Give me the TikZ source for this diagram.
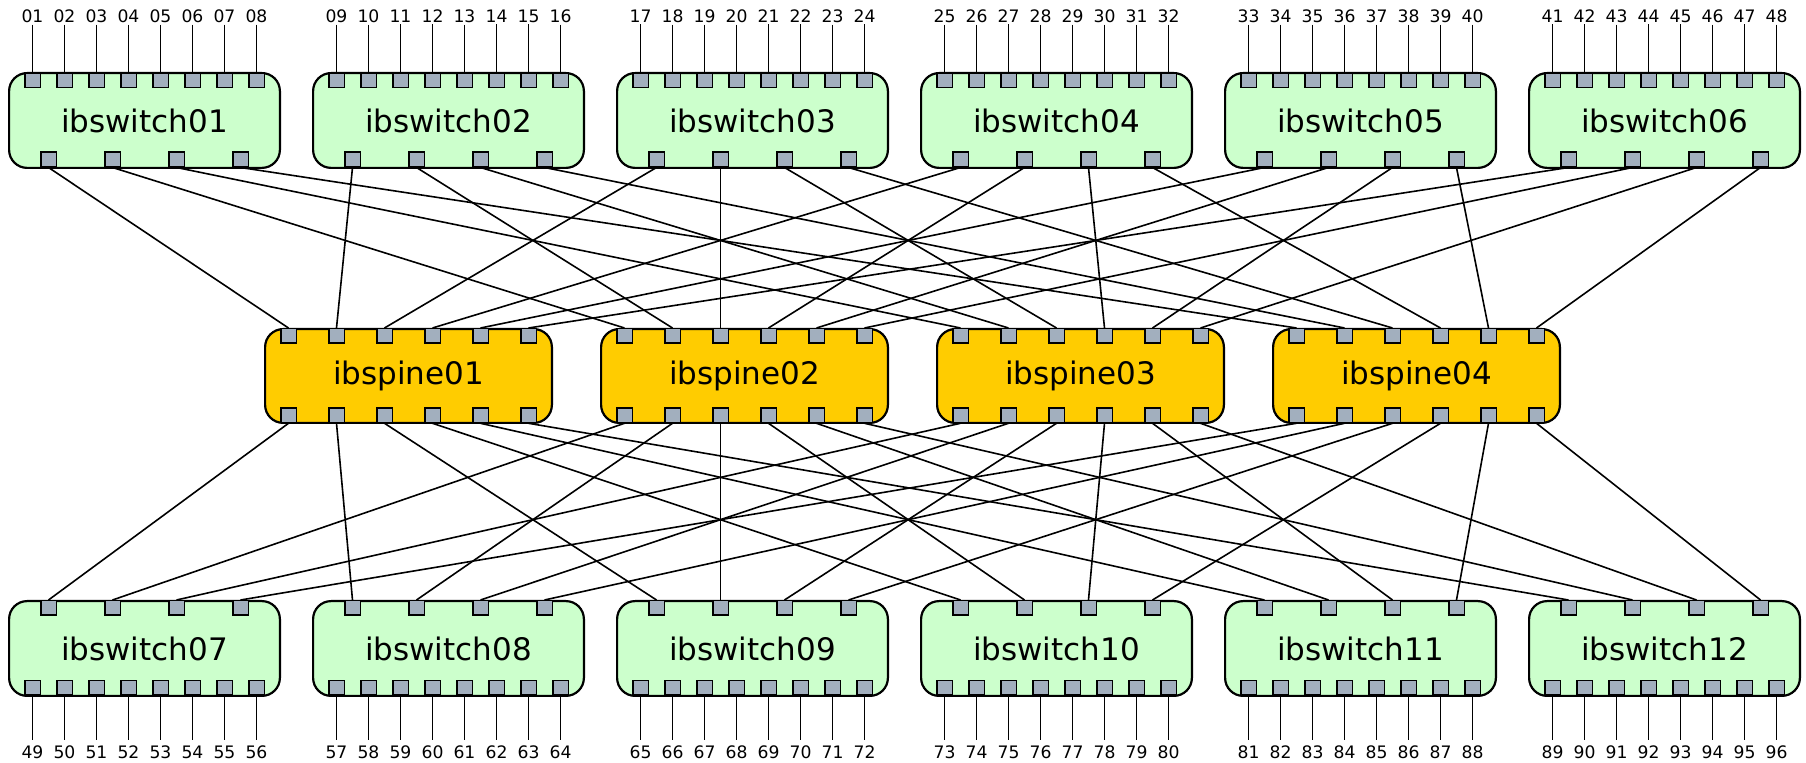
\documentclass[tikz,border=0pt]{standalone}
\usepackage{fontspec}
\setmainfont{DejaVu Sans}
\usetikzlibrary{positioning}
\definecolor{leafgreen}{RGB}{204,255,204}
\definecolor{spineyellow}{RGB}{255,204,0}
\definecolor{portgray}{RGB}{162,175,190}

\begin{document}
\begin{tikzpicture}[
    x=0.5pt, y=-0.5pt,
    leaf/.style={rectangle, draw, rounded corners=9pt, line width=1.1pt, fill=leafgreen,
        minimum width=135.4pt, minimum height=47.4pt, font=\fontsize{15.5}{18}\selectfont},
    spine/.style={leaf, fill=spineyellow, minimum width=143.4pt, minimum height=46.9pt},
    port/.style={rectangle, draw, fill=portgray, line width=0.75pt,
        minimum width=7.75pt, minimum height=7.25pt, inner sep=0pt},
    portlabel/.style={font=\fontsize{8.6}{10}\selectfont, inner sep=0pt},
    link/.style={line width=0.8pt},
    cable/.style={line width=0.9pt},
]
\useasboundingbox (0,0) rectangle (1806,763);

% Top switches
\foreach \i in {1,...,6} {
    \node[leaf] (sw\i) at ({144.5+304*(\i-1)},120.5) {ibswitch0\i};
    \foreach \k in {1,...,8} {
        \pgfmathtruncatemacro\num{8*(\i-1)+\k}
        \node[port] (sw\i-t\k) at ({0.5+304*(\i-1)+32*\k},80.5) {};
        \node[portlabel] (lbl\num) at ({0.5+304*(\i-1)+32*\k},16.5) {\ifnum\num<10 0\fi\num};
        \draw[cable, shorten <=0.6pt] (lbl\num.south) -- (sw\i-t\k.north);
    }
    \foreach \j in {1,...,4}
        \node[port] (sw\i-b\j) at ({-15.5+304*(\i-1)+64*\j},159.5) {};
}

% Spines
\foreach \j in {1,...,4} {
    \node[spine] (sp\j) at ({408.5+336*(\j-1)},376) {ibspine0\j};
    \foreach \i in {1,...,6} {
        \node[port] (sp\j-t\i) at ({240.5+336*(\j-1)+48*\i},336) {};
        \node[port] (sp\j-b\i) at ({240.5+336*(\j-1)+48*\i},415.3) {};
    }
}

% Bottom switches
\foreach \m/\name in {1/07,2/08,3/09,4/10,5/11,6/12} {
    \node[leaf] (bsw\m) at ({144.5+304*(\m-1)},648.5) {ibswitch\name};
    \foreach \j in {1,...,4}
        \node[port] (bsw\m-t\j) at ({-15.5+304*(\m-1)+64*\j},608) {};
    \foreach \k in {1,...,8} {
        \pgfmathtruncatemacro\num{48+8*(\m-1)+\k}
        \node[port] (bsw\m-b\k) at ({0.5+304*(\m-1)+32*\k},687.7) {};
        \node[portlabel] (lbl\num) at ({0.5+304*(\m-1)+32*\k},752.5) {\num};
        \draw[cable, shorten >=2.8pt] (bsw\m-b\k.south) -- (lbl\num.north);
    }
}

% Links switch -> spine -> switch
\foreach \i in {1,...,6}
    \foreach \j in {1,...,4} {
        \draw[link] (sw\i-b\j.south) -- (sp\j-t\i.north);
        \draw[link] (sp\j-b\i.south) -- (bsw\i-t\j.north);
    }

\end{tikzpicture}
\end{document}
